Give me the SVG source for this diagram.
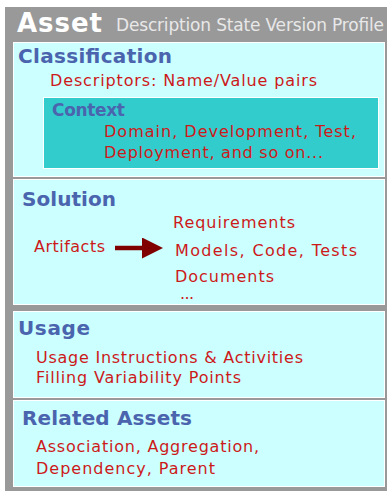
<svg xmlns="http://www.w3.org/2000/svg" width="387" height="491" viewBox="0 0 387 491">
<style>
.sec{fill:#ccffff;stroke:#ffffff;stroke-width:1}
.ctx{fill:#33cccc;stroke:#ffffff;stroke-width:1}
.h{font-family:"DejaVu Sans",Verdana,sans-serif;font-weight:bold;fill:#4a64ae}
.t{font-family:"DejaVu Sans",Verdana,sans-serif;font-size:16px;fill:#cc1a1a}
</style>
<defs>
<marker id="ah" viewBox="0 0 21 21" markerWidth="21" markerHeight="21" refX="0" refY="10.5" markerUnits="userSpaceOnUse" orient="auto">
<path d="M0,0 L21,10.5 L0,21 Z" fill="#800000"/>
</marker>
</defs>
<rect x="5" y="7" width="390" height="490" fill="#999999"/>
<g id="asset">
<text x="17" y="32" font-family="DejaVu Sans,Verdana,sans-serif" font-weight="bold" font-size="26" fill="#ffffff" textLength="85" lengthAdjust="spacing">Asset</text>
<text x="116" y="31" font-family="DejaVu Sans,Verdana,sans-serif" font-size="17" fill="#e8e8e8" textLength="268" lengthAdjust="spacing">Description State Version Profile</text>
</g>
<g id="classification">
<rect class="sec" x="13.5" y="42.5" width="371" height="134"/>
<text class="h" x="18" y="63" font-size="20" textLength="154" lengthAdjust="spacing">Classification</text>
<text class="t" x="50" y="86" textLength="267" lengthAdjust="spacing">Descriptors: Name/Value pairs</text>
</g>
<g id="context">
<rect class="ctx" x="43.5" y="97.5" width="335" height="71"/>
<text class="h" x="52" y="116" font-size="17" textLength="73" lengthAdjust="spacing">Context</text>
<text class="t" x="104" y="137" textLength="252" lengthAdjust="spacing">Domain, Development, Test,</text>
<text class="t" x="104" y="158" textLength="219" lengthAdjust="spacing">Deployment, and so on...</text>
</g>
<g id="solution">
<rect class="sec" x="13.5" y="179.5" width="371" height="125"/>
<text class="h" x="22" y="206" font-size="20" textLength="94" lengthAdjust="spacing">Solution</text>
<text class="t" x="34" y="252" textLength="71" lengthAdjust="spacing">Artifacts</text>
<text class="t" x="173" y="228" textLength="122" lengthAdjust="spacing">Requirements</text>
<text class="t" x="175" y="256" textLength="182" lengthAdjust="spacing">Models, Code, Tests</text>
<text class="t" x="175" y="282" textLength="99" lengthAdjust="spacing">Documents</text>
<text class="t" x="180" y="299" font-size="10" textLength="14" lengthAdjust="spacing">...</text>
</g>
<g id="connectors">
<line x1="115" y1="248" x2="142" y2="248" stroke="#800000" stroke-width="4.5" marker-end="url(#ah)"/>
</g>
<g id="usage">
<rect class="sec" x="13.5" y="311.5" width="371" height="86"/>
<text class="h" x="18" y="335" font-size="20" textLength="72" lengthAdjust="spacing">Usage</text>
<text class="t" x="36" y="363" textLength="267" lengthAdjust="spacing">Usage Instructions &amp; Activities</text>
<text class="t" x="36" y="383" textLength="205" lengthAdjust="spacing">Filling Variability Points</text>
</g>
<g id="related-assets">
<rect class="sec" x="13.5" y="400.5" width="371" height="86"/>
<text class="h" x="22" y="425" font-size="20" textLength="170" lengthAdjust="spacing">Related Assets</text>
<text class="t" x="36" y="452" textLength="223" lengthAdjust="spacing">Association, Aggregation,</text>
<text class="t" x="36" y="474" textLength="179" lengthAdjust="spacing">Dependency, Parent</text>
</g>
</svg>
